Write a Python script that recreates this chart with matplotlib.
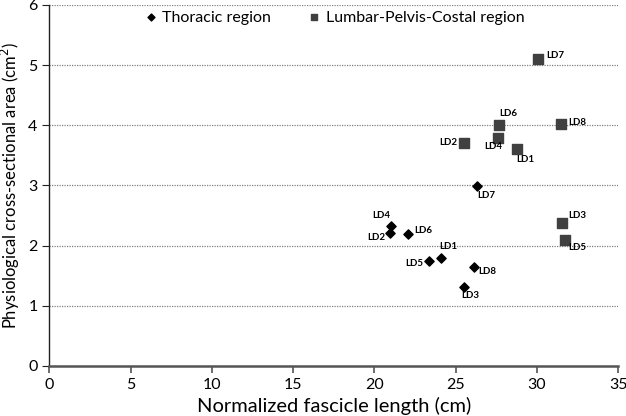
import matplotlib
matplotlib.use("Agg")
import matplotlib.pyplot as plt

plt.rcParams['font.family'] = ['Lato', 'DejaVu Sans']

thor_labels = ["LD1", "LD2", "LD3", "LD4", "LD5", "LD6", "LD7", "LD8"]
thor_x = [24.1, 20.95, 25.55, 21.0, 23.35, 22.05, 26.3, 26.15]
thor_y = [1.80, 2.21, 1.32, 2.33, 1.75, 2.20, 2.99, 1.65]

lumb_labels = ["LD1", "LD2", "LD3", "LD4", "LD5", "LD6", "LD7", "LD8"]
lumb_x = [28.8, 25.5, 31.55, 27.6, 31.75, 27.65, 30.1, 31.5]
lumb_y = [3.60, 3.70, 2.38, 3.79, 2.10, 4.01, 5.11, 4.02]

# label offsets in pixels (dx, dy)
thor_off = {"LD1": (7, 11), "LD2": (-13, -4), "LD3": (6, -9), "LD4": (-9, 10),
            "LD5": (-14, -3), "LD6": (16, 3), "LD7": (10, -9), "LD8": (13, -5)}
lumb_off = {"LD1": (8, -10), "LD2": (-15, 1), "LD3": (15, 7), "LD4": (-5, -9),
            "LD5": (12, -8), "LD6": (10, 11), "LD7": (17, 3), "LD8": (16, 2)}

fig = plt.figure(figsize=(6.26, 4.16), dpi=100)
ax = fig.add_axes([0.0788, 0.1202, 0.9085, 0.8678])

ax.set_xlim(0, 35)
ax.set_ylim(0, 6)
ax.set_xticks(range(0, 36, 5))
ax.set_yticks(range(0, 7))
ax.yaxis.grid(True, linestyle=(0, (1, 1)), color='#808080', linewidth=0.9)
ax.set_axisbelow(True)
for s in ['top', 'right']:
    ax.spines[s].set_visible(False)
ax.spines['left'].set_color('#222222')
ax.spines['left'].set_linewidth(1.0)
ax.spines['bottom'].set_color('#555555')
ax.spines['bottom'].set_linewidth(1.8)
ax.tick_params(axis='y', direction='out', length=5, color='#222222', labelsize=11.5)
ax.tick_params(axis='x', direction='out', length=5, color='#555555', width=1.2, labelsize=11.5)

ax.scatter(thor_x, thor_y, marker='D', s=22, color='black', label='Thoracic region', zorder=3)
ax.scatter(lumb_x, lumb_y, marker='s', s=45, color='#404040', label='Lumbar-Pelvis-Costal region', zorder=3)

for lab, x, y in zip(thor_labels, thor_x, thor_y):
    dx, dy = thor_off[lab]
    ax.annotate(lab, (x, y), xytext=(dx, dy), textcoords='offset pixels',
                ha='center', va='center', fontsize=7, fontweight='bold')
for lab, x, y in zip(lumb_labels, lumb_x, lumb_y):
    dx, dy = lumb_off[lab]
    ax.annotate(lab, (x, y), xytext=(dx, dy), textcoords='offset pixels',
                ha='center', va='center', fontsize=7, fontweight='bold')

ax.set_xlabel('Normalized fascicle length (cm)', fontsize=14.5, labelpad=4)
ax.set_ylabel('Physiological cross-sectional area (cm$^2$)', fontsize=12)
ax.yaxis.set_label_coords(-0.048, 0.5)

leg = ax.legend(loc='upper left', bbox_to_anchor=(0.14, 1.025), ncol=2, frameon=False,
                fontsize=11.5, handletextpad=0.2, columnspacing=2.2, markerscale=0.75,
                handlelength=1.0)

fig.savefig('out.png', dpi=100)
